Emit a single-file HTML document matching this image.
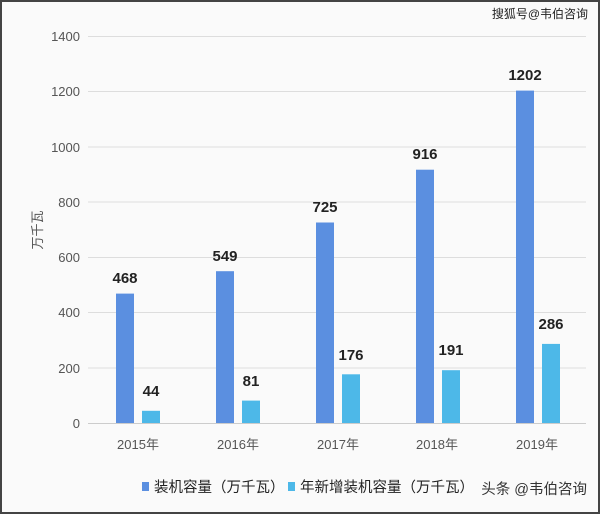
<!DOCTYPE html><html><head><meta charset="utf-8"><style>
body{margin:0;background:#fff}
text{font-family:"Liberation Sans","Noto Sans CJK SC",sans-serif}
</style></head><body>
<svg width="600" height="514" viewBox="0 0 600 514">
<rect x="0" y="0" width="600" height="514" fill="#fafafa"/>
<rect x="1" y="1" width="598" height="512" fill="none" stroke="#444" stroke-width="2"/>
<text x="588" y="18" font-size="12" fill="#222" text-anchor="end">搜狐号@韦伯咨询</text>
<g stroke="#ddd" stroke-width="1">
<line x1="88" x2="586" y1="36.5" y2="36.5"/><line x1="88" x2="586" y1="91.5" y2="91.5"/><line x1="88" x2="586" y1="147" y2="147"/><line x1="88" x2="586" y1="202" y2="202"/><line x1="88" x2="586" y1="257.5" y2="257.5"/><line x1="88" x2="586" y1="312.5" y2="312.5"/><line x1="88" x2="586" y1="368" y2="368"/></g>
<line x1="88" x2="586" y1="423.5" y2="423.5" stroke="#ccc"/>
<g font-size="13" fill="#555" text-anchor="end">
<text x="80" y="41">1400</text><text x="80" y="96">1200</text><text x="80" y="152">1000</text><text x="80" y="207">800</text><text x="80" y="262">600</text><text x="80" y="317">400</text><text x="80" y="373">200</text><text x="80" y="428">0</text></g>
<text transform="translate(42,230) rotate(-90)" font-size="13" fill="#555" text-anchor="middle">万千瓦</text>
<g fill="#5b8fe0">
<rect x="116" y="293.6" width="18" height="129.4"/><rect x="216" y="271.2" width="18" height="151.8"/><rect x="316" y="222.5" width="18" height="200.5"/><rect x="416" y="169.7" width="18" height="253.3"/><rect x="516" y="90.6" width="18" height="332.4"/></g>
<g fill="#4db8e8">
<rect x="142" y="410.8" width="18" height="12.2"/><rect x="242" y="400.6" width="18" height="22.4"/><rect x="342" y="374.3" width="18" height="48.7"/><rect x="442" y="370.2" width="18" height="52.8"/><rect x="542" y="343.9" width="18" height="79.1"/></g>
<g font-size="15" fill="#222" text-anchor="middle" font-weight="bold">
<text x="125" y="283">468</text><text x="225" y="261">549</text><text x="325" y="212">725</text><text x="425" y="159">916</text><text x="525" y="80">1202</text>
<text x="151" y="396">44</text><text x="251" y="386">81</text><text x="351" y="360">176</text><text x="451" y="355">191</text><text x="551" y="329">286</text></g>
<g font-size="13" fill="#555" text-anchor="middle">
<text x="138" y="449">2015年</text><text x="238" y="449">2016年</text><text x="338" y="449">2017年</text><text x="437" y="449">2018年</text><text x="537" y="449">2019年</text></g>
<rect x="142" y="482" width="7" height="9" fill="#5b8fe0"/>
<text x="154" y="492" font-size="14.5" fill="#222">装机容量（万千瓦）</text>
<rect x="288" y="482" width="7" height="9" fill="#4db8e8"/>
<text x="300" y="492" font-size="14.5" fill="#222">年新增装机容量（万千瓦）</text>
<text x="587" y="494" font-size="14.5" fill="#333" text-anchor="end">头条 @韦伯咨询</text>
</svg></body></html>
